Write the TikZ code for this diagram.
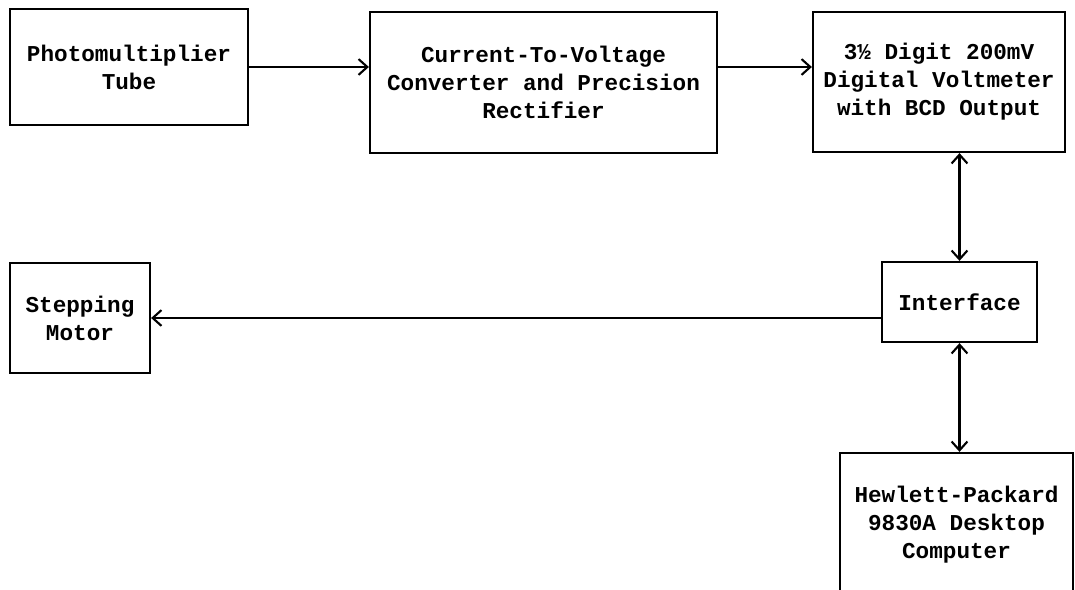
\documentclass[tikz,border=0pt]{standalone}
\usepackage{fontspec}
\setmonofont{Liberation Mono}
\usetikzlibrary{arrows.meta}

\begin{document}
\begin{tikzpicture}[x=0.02cm, y=-0.02cm,
			every node/.style={draw, line width=1.3pt, align=center,
				font=\ttfamily\bfseries\fontsize{12.9}{15.9}\selectfont},
			link/.style={line width=1.2pt, >={Straight Barb[length=5pt, width=9pt]}}]

		\clip (0, 0) rectangle (1075, 590);

		\node[minimum width=4.76cm, minimum height=2.32cm] (pmt) at (129, 67) {Photomultiplier\\Tube};
		\node[minimum width=6.94cm, minimum height=2.82cm] (conv) at (543.5, 82.5) {Current-To-Voltage\\Converter and Precision\\Rectifier};
		\node[minimum width=5.04cm, minimum height=2.80cm] (dvm) at (939, 82) {3½ Digit 200mV\\Digital Voltmeter\\with BCD Output};
		\node[minimum width=3.10cm, minimum height=1.60cm] (intf) at (959.5, 302) {Interface};
		\node[minimum width=2.80cm, minimum height=2.20cm] (step) at (80, 318) {Stepping\\Motor};
		\node[minimum width=4.66cm, minimum height=2.88cm] (hp) at (956.5, 525) {Hewlett-Packard\\9830A Desktop\\Computer};

		\draw[link, ->] (pmt.east) -- (pmt.east -| conv.west);
		\draw[link, ->] (pmt.east -| conv.east) -- (pmt.east -| dvm.west);
		\draw[link, <->] (intf.north |- dvm.south) -- (intf.north);
		\draw[link, ->] (intf.west |- step.east) -- (step.east);
		\draw[link, <->] (intf.south) -- (intf.south |- hp.north);
	\end{tikzpicture}
\end{document}
